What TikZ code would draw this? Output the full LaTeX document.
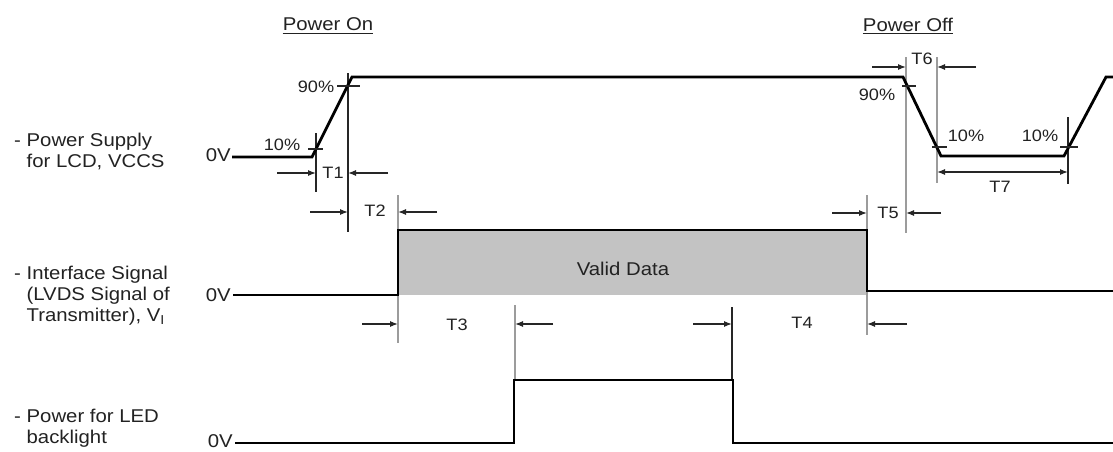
\documentclass[tikz,border=0pt]{standalone}
\usepackage{fontspec}
\setmainfont{Liberation Sans}[FakeStretch=1.1]
\usetikzlibrary{arrows.meta}
\definecolor{refgray}{HTML}{9C9C9C}
\definecolor{dimgray}{HTML}{262626}
\definecolor{validgray}{HTML}{C3C3C3}
\definecolor{txt}{HTML}{222222}
\begin{document}
\begin{tikzpicture}[x=1pt,y=-1pt,
  sig/.style={line width=2.8pt, line join=miter},
  thinln/.style={line width=1.2pt, draw=dimgray},
  refln/.style={line width=2pt, draw=refgray},
  dimarrow/.style={line width=1.2pt, draw=dimgray, -{Latex[length=8pt,width=6pt]}},
  lbl/.style={font=\fontsize{18.5}{21}\selectfont, inner sep=0pt, text=txt},
  small/.style={font=\fontsize{16.5}{19}\selectfont, inner sep=0pt, text=txt}]
\useasboundingbox (0,0) rectangle (1113,451);
\fill[white] (0,0) rectangle (1113,451);

% headings
\node[lbl] (pon) at (328,24.5) {Power On};
\draw[line width=1pt, txt] ([yshift=-2pt]pon.south west) -- ([yshift=-2pt]pon.south east);
\node[lbl] (poff) at (908,24.5) {Power Off};
\draw[line width=1pt, txt] ([yshift=-2pt]poff.south west) -- ([yshift=-2pt]poff.south east);

% left labels
\node[lbl, anchor=west] (lps) at (14,153) {\begin{tabular}{@{}l@{ }l@{}}-&Power Supply\\ &for LCD, VCCS\end{tabular}};
\node[lbl, anchor=west] (lif) at (14,296) {\begin{tabular}{@{}l@{ }l@{}}-&Interface Signal\\ &(LVDS Signal of\\ &Transmitter), V\textsubscript{I}\end{tabular}};
\node[lbl, anchor=west] (lled) at (14,429) {\begin{tabular}{@{}l@{ }l@{}}-&Power for LED\\ &backlight\end{tabular}};

% valid data fill
\fill[validgray] (398,231) rectangle (867,295);
\node[lbl] (vd) at (623,269) {Valid Data};

% reference lines (gray)
\draw[refln] (398,195) -- (398,343);
\draw[refln] (867,195) -- (867,335);
\draw[refln] (515,305) -- (515,380);
\draw[refln] (906,57) -- (906,233);
\draw[refln] (937,57) -- (937,183);

% reference lines (black thin)
\draw[thinln] (316,133) -- (316,192);
\draw[thinln] (348,73) -- (348,232);
\draw[thinln] (732,307) -- (732,380);
\draw[thinln] (1068,117) -- (1068,184);

% signals
\draw[sig] (232,157) -- (312,157) -- (352,77) -- (903,77) -- (941,156) -- (1064,156) -- (1106,77) -- (1113,77);
\draw[sig] (233,295) -- (398,295) -- (398,230) -- (867,230) -- (867,291) -- (1113,291);
\draw[sig] (235,443) -- (514,443) -- (514,380) -- (733,380) -- (733,443) -- (1113,443);

% 0V labels
\node[lbl, anchor=east] (z1) at (231,155) {0V};
\node[lbl, anchor=east] (z2) at (231,295) {0V};
\node[lbl, anchor=east] (z3) at (233,441) {0V};

% threshold ticks
\draw[thinln] (337,86) -- (360,86);
\draw[thinln] (308,149) -- (323,149);
\draw[thinln] (902,86) -- (916,86);
\draw[thinln] (932,147) -- (947,147);
\draw[thinln] (1060,147) -- (1078,147);

\node[small] (p90a) at (316,87) {90\%};
\node[small] (p10a) at (282,145) {10\%};
\node[small] (p90b) at (877,95) {90\%};
\node[small] (p10b) at (966,136) {10\%};
\node[small] (p10c) at (1040,136) {10\%};

% dimensions
\draw[dimarrow] (277,173) -- (316,173);
\draw[dimarrow] (388,173) -- (348,173);
\node[small] (t1) at (333,173) {T1};

\draw[dimarrow] (310,212) -- (348,212);
\draw[dimarrow] (437,212) -- (398,212);
\node[small] (t2) at (375,211) {T2};

\draw[dimarrow] (362,324) -- (398,324);
\draw[dimarrow] (553,324) -- (515,324);
\node[small] (t3) at (457,325) {T3};

\draw[dimarrow] (693,324) -- (732,324);
\draw[dimarrow] (907,324) -- (867,324);
\node[small] (t4) at (802,323) {T4};

\draw[dimarrow] (832,213) -- (867,213);
\draw[dimarrow] (941,213) -- (906,213);
\node[small] (t5) at (888,213) {T5};

\draw[dimarrow] (872,67) -- (906,67);
\draw[dimarrow] (976,67) -- (937,67);
\node[small] (t6) at (922,59) {T6};

\draw[line width=1.2pt, draw=dimgray, {Latex[length=8pt,width=6pt]}-{Latex[length=8pt,width=6pt]}] (937,172) -- (1068,172);
\node[small] (t7) at (1000,187) {T7};
\end{tikzpicture}
\end{document}
